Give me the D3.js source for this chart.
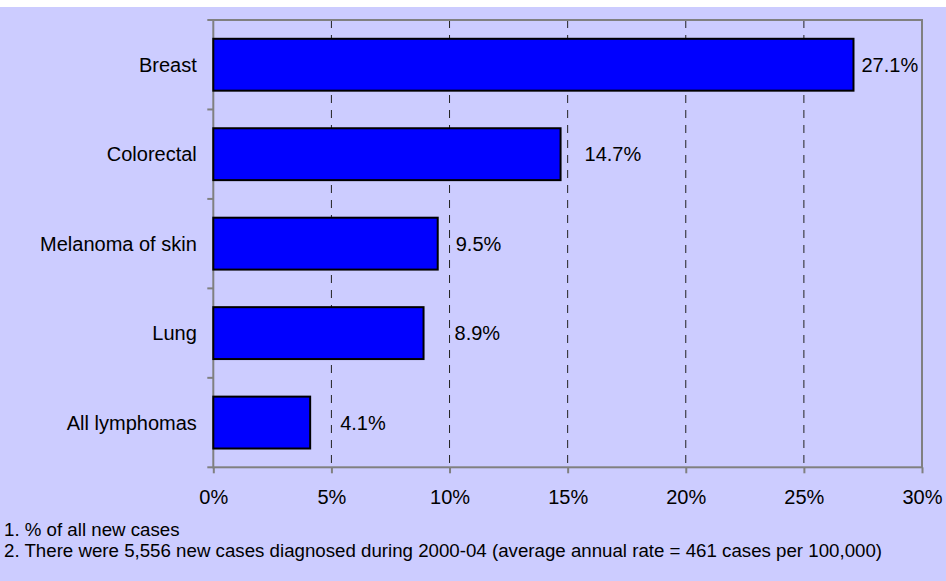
<!DOCTYPE html>
<html>
<head>
<meta charset="utf-8">
<script src="https://cdn.jsdelivr.net/npm/d3@7"></script>
<style>
  html, body { margin: 0; padding: 0; background: #ffffff; }
  svg { display: block; }
  text { font-family: "Liberation Sans", Arial, sans-serif; fill: #000; }
</style>
</head>
<body>
<svg id="chart" width="946" height="581"></svg>
<script>
// Most common cancers, % of all new cases
const categories = ["Breast", "Colorectal", "Melanoma of skin", "Lung", "All lymphomas"];
const shares = [27.1, 14.7, 9.5, 8.9, 4.1];
const xTicks = [0, 5, 10, 15, 20, 25, 30];
const footnotes = [
  "1. % of all new cases",
  "2. There were 5,556 new cases diagnosed during 2000-04 (average annual rate = 461 cases per 100,000)"
];
// horizontal gap between each bar end and its value label
const labelGap = [8, 24, 18, 31, 30];

const svg = d3.select("#chart");
const W = 946, H = 581;
const plot = { left: 213.3, right: 922, top: 20, bottom: 467.3 };

svg.append("rect")
  .attr("x", 0).attr("y", 7)
  .attr("width", W).attr("height", H - 7)
  .attr("fill", "#ccccff");

const x = d3.scaleLinear().domain([0, 30]).range([plot.left, plot.right]);
const y = d3.scaleBand()
  .domain(categories)
  .range([plot.top, plot.bottom])
  .paddingInner(0.42)
  .paddingOuter(0.21);

// dashed vertical gridlines
svg.append("g")
  .selectAll("line")
  .data(xTicks.filter(t => t > 0 && t < 30))
  .join("line")
  .attr("x1", d => x(d)).attr("x2", d => x(d))
  .attr("y1", plot.top).attr("y2", plot.bottom)
  .attr("stroke", "#222")
  .attr("stroke-width", 1)
  .attr("stroke-dasharray", "8,7");

// plot frame
svg.append("rect")
  .attr("x", plot.left).attr("y", plot.top)
  .attr("width", plot.right - plot.left)
  .attr("height", plot.bottom - plot.top)
  .attr("fill", "none")
  .attr("stroke", "#808080")
  .attr("stroke-width", 2);

// bars
svg.append("g")
  .selectAll("rect")
  .data(categories)
  .join("rect")
  .attr("x", x(0))
  .attr("y", (d) => y(d))
  .attr("width", (d, i) => x(shares[i]) - x(0))
  .attr("height", y.bandwidth())
  .attr("fill", "#0000ff")
  .attr("stroke", "#000")
  .attr("stroke-width", 2);

// value labels
svg.append("g")
  .selectAll("text")
  .data(categories)
  .join("text")
  .attr("x", (d, i) => x(shares[i]) + labelGap[i])
  .attr("y", d => y(d) + y.bandwidth() / 2)
  .attr("dy", "0.35em")
  .attr("font-size", 20)
  .text((d, i) => shares[i].toFixed(1) + "%");

// y axis: category labels with ticks at band boundaries
const yAxis = svg.append("g")
  .attr("transform", `translate(${plot.left},0)`);
const bounds = categories.map(c => y(c) - y.step() * y.paddingInner() / 2).concat([plot.bottom]);
yAxis.selectAll("line.tick")
  .data(bounds)
  .join("line")
  .attr("class", "tick")
  .attr("x1", -6).attr("x2", 0)
  .attr("y1", d => d).attr("y2", d => d)
  .attr("stroke", "#808080").attr("stroke-width", 2);
yAxis.selectAll("text")
  .data(categories)
  .join("text")
  .attr("x", -16.5)
  .attr("y", d => y(d) + y.bandwidth() / 2)
  .attr("dy", "0.35em")
  .attr("text-anchor", "end")
  .attr("font-size", 20)
  .text(d => d);

// x axis
const xAxis = svg.append("g")
  .attr("transform", `translate(0,${plot.bottom})`)
  .call(d3.axisBottom(x).tickValues(xTicks).tickFormat(d => d + "%").tickSize(6).tickPadding(17));
xAxis.select(".domain").remove();
xAxis.selectAll(".tick line").attr("stroke", "#808080").attr("stroke-width", 2);
xAxis.selectAll(".tick text")
  .attr("font-size", 20)
  .attr("font-family", "Liberation Sans, Arial, sans-serif")
  .attr("fill", "#000");

// footnotes
svg.append("g")
  .selectAll("text")
  .data(footnotes)
  .join("text")
  .attr("x", 4)
  .attr("y", (d, i) => 536 + i * 21)
  .attr("font-size", 18.7)
  .text(d => d);
</script>
</body>
</html>
